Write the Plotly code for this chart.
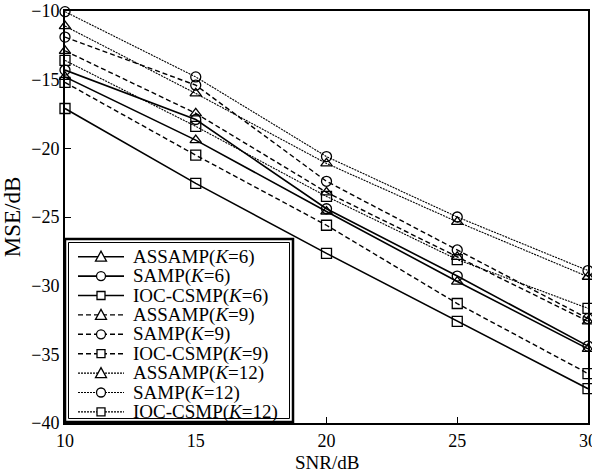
import plotly.graph_objects as go

snr = [10, 15, 20, 25, 30]

assamp_k6 = [-14.8, -19.4, -24.6, -29.7, -34.6]
samp_k6 = [-14.3, -17.9, -24.4, -29.3, -34.4]
ioc_k6 = [-17.1, -22.55, -27.65, -32.6, -37.5]
assamp_k9 = [-12.9, -17.45, -23.2, -27.9, -32.6]
samp_k9 = [-11.9, -15.4, -22.4, -27.4, -32.4]
ioc_k9 = [-15.2, -20.5, -25.6, -31.3, -36.4]
assamp_k12 = [-11.1, -16.0, -21.1, -25.35, -29.35]
samp_k12 = [-10.05, -14.8, -20.6, -25.0, -28.9]
ioc_k12 = [-13.6, -18.4, -23.5, -28.1, -31.65]

names = ["ASSAMP(<i>K</i>=6)", "SAMP(<i>K</i>=6)", "IOC-CSMP(<i>K</i>=6)",
         "ASSAMP(<i>K</i>=9)", "SAMP(<i>K</i>=9)", "IOC-CSMP(<i>K</i>=9)",
         "ASSAMP(<i>K</i>=12)", "SAMP(<i>K</i>=12)", "IOC-CSMP(<i>K</i>=12)"]
series = [assamp_k6, samp_k6, ioc_k6, assamp_k9, samp_k9, ioc_k9,
          assamp_k12, samp_k12, ioc_k12]
symbols = ["triangle-up-open", "circle-open", "square-open"] * 3
kinds = ["tri", "circ", "sq"] * 3
dashes = ["solid"] * 3 + ["5px,3px"] * 3 + ["2px,1px"] * 3
widths = [1.6] * 3 + [1.4] * 3 + [1.1] * 3

font = "Liberation Serif, Times New Roman, serif"

# page-pixel geometry of the plot area
L, R, T, B = 65, 588, 11, 423

fig = go.Figure()
for nm, ys, sym, ds, w in zip(names, series, symbols, dashes, widths):
    fig.add_trace(go.Scatter(
        x=snr, y=ys, name=nm, mode="lines+markers",
        line=dict(color="black", width=w, dash=ds),
        marker=dict(symbol=sym, size=10, color="black",
                    line=dict(width=1.3, color="black")),
        cliponaxis=False, showlegend=False,
    ))

# hand-built legend (layout shapes/annotations in page-pixel units on an overlay axis)
box_x0, box_x1, box_y0, box_y1 = 65, 293, 239, 422
row0, row_step = 256.7, 19.4
line_x0, line_x1, mark_x, text_x = 78, 124, 101, 131
hs = 4.5  # half-size of legend symbols

shapes = [
    dict(type="rect", xref="x2", yref="y2", x0=box_x0, x1=box_x1, y0=box_y0, y1=box_y1,
         line=dict(color="black", width=2.5), fillcolor="white", layer="above"),
    dict(type="rect", xref="x2", yref="y2", x0=box_x0 + 3.5, x1=box_x1 - 3.5,
         y0=box_y0 + 3.5, y1=box_y1 - 3.5,
         line=dict(color="black", width=1), layer="above"),
]
annotations = []
for i, (nm, kind, ds, w) in enumerate(zip(names, kinds, dashes, widths)):
    yc = row0 + i * row_step
    shapes.append(dict(type="line", xref="x2", yref="y2", x0=line_x0, x1=line_x1,
                       y0=yc, y1=yc, line=dict(color="black", width=w, dash=ds),
                       layer="above"))
    sym_line = dict(color="black", width=1.3)
    if kind == "circ":
        shapes.append(dict(type="circle", xref="x2", yref="y2",
                           x0=mark_x - hs, x1=mark_x + hs, y0=yc - hs, y1=yc + hs,
                           line=sym_line, fillcolor="white", layer="above"))
    elif kind == "sq":
        shapes.append(dict(type="rect", xref="x2", yref="y2",
                           x0=mark_x - hs + 0.5, x1=mark_x + hs - 0.5,
                           y0=yc - hs + 0.5, y1=yc + hs - 0.5,
                           line=sym_line, fillcolor="white", layer="above"))
    else:
        path = (f"M {mark_x - hs - 1},{yc + hs} L {mark_x + hs + 1},{yc + hs} "
                f"L {mark_x},{yc - hs - 1} Z")
        shapes.append(dict(type="path", xref="x2", yref="y2", path=path,
                           line=sym_line, fillcolor="white", layer="above"))
    annotations.append(dict(xref="x2", yref="y2", x=text_x, y=yc, text=nm,
                            showarrow=False, xanchor="left", yanchor="middle",
                            align="left",
                            font=dict(family=font, size=19, color="black")))

# x-axis title placed as a paper annotation (centre at page y = 462)
annotations.append(dict(xref="paper", yref="paper", x=0.5, y=(B - 462) / (B - T),
                        text="SNR/dB", showarrow=False, xanchor="center",
                        yanchor="middle",
                        font=dict(family=font, size=19, color="black")))

axis_common = dict(showline=True, mirror=True, linecolor="black", linewidth=2,
                   ticks="inside", ticklen=6, tickcolor="black", showgrid=False,
                   zeroline=False, automargin=False,
                   tickfont=dict(family=font, size=18, color="black"))

fig.update_layout(
    width=592, height=473,
    margin=dict(l=L, r=592 - R, t=T, b=473 - B, autoexpand=False),
    paper_bgcolor="white", plot_bgcolor="white",
    font=dict(family=font, size=19, color="black"),
    showlegend=False,
    shapes=shapes, annotations=annotations,
    xaxis=dict(range=[10, 30], tickvals=[10, 15, 20, 25, 30],
               ticklabeloverflow="allow", **axis_common),
    yaxis=dict(range=[-40, -10], tickvals=[-40, -35, -30, -25, -20, -15, -10],
               ticktext=["\u221240", "\u221235", "\u221230", "\u221225", "\u221220",
                         "\u221215", "\u221210"],
               title=dict(text="MSE/dB", standoff=5), **axis_common),
    xaxis2=dict(overlaying="x", range=[L, R], visible=False, anchor="y2",
                automargin=False),
    yaxis2=dict(overlaying="y", range=[B, T], visible=False, anchor="x2",
                automargin=False),
)

fig.write_html("out.html")
